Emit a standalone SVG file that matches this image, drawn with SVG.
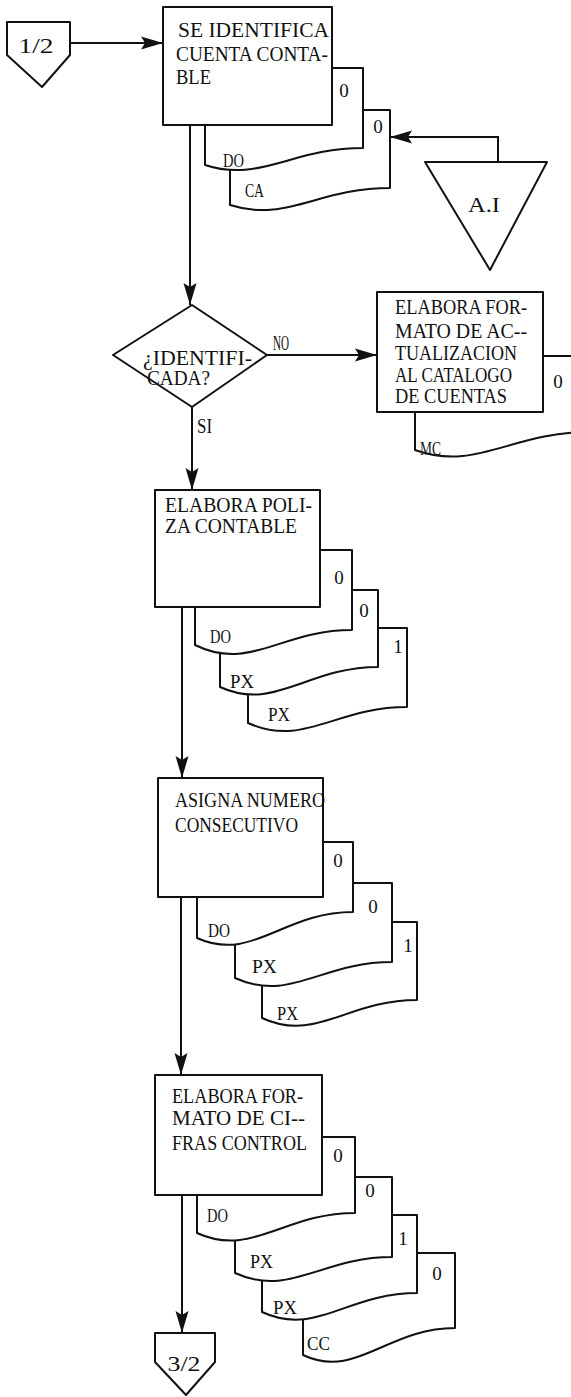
<svg xmlns="http://www.w3.org/2000/svg" width="571" height="1397" viewBox="0 0 571 1397">
<style>
.s{fill:#fff;stroke:#111;stroke-width:2;stroke-linejoin:round}
.l{fill:none;stroke:#111;stroke-width:2}
text{font-family:"Liberation Serif","DejaVu Serif",serif;fill:#111}
.t{font-size:20px}
.b{font-size:20px}
.d{font-size:19px}
.n{font-size:19px;text-anchor:middle}
</style>
<defs>
<marker id="ah" markerUnits="userSpaceOnUse" markerWidth="24" markerHeight="16" refX="22" refY="8" orient="auto">
<path d="M0,1.5 L22,8 L0,14.5 L4,8 Z" fill="#111"/>
</marker>
</defs>
<rect width="571" height="1397" fill="#fff"/>

<g id="conn-1-2">
<path class="s" d="M7,22 H70 V55 L42,87 L7,55 Z"/>
<text style="font-size:21px" x="36" y="53" text-anchor="middle" textLength="35" lengthAdjust="spacingAndGlyphs">1/2</text>
</g>

<g id="doc-ca">
<path class="s" d="M230,110 H390 V188 C318,188 286,223 230,205 Z"/>
<text class="n" x="378" y="133">0</text>
<text class="d" x="245" y="197" textLength="19" lengthAdjust="spacingAndGlyphs">CA</text>
</g>
<g id="doc-do-1">
<path class="s" d="M205,68 H363 V148 C292,148 260,183 205,165 Z"/>
<text class="n" x="344" y="97">0</text>
<text class="d" x="223" y="167" textLength="21" lengthAdjust="spacingAndGlyphs">DO</text>
</g>
<g id="box-identifica">
<rect class="s" x="163" y="7" width="169" height="118"/>
<text class="b" x="178" y="37" textLength="151" lengthAdjust="spacingAndGlyphs">SE IDENTIFICA</text>
<text class="b" x="176" y="61" textLength="152" lengthAdjust="spacingAndGlyphs">CUENTA CONTA-</text>
<text class="b" x="176" y="84" textLength="35" lengthAdjust="spacingAndGlyphs">BLE</text>
</g>

<g id="archivo-ai">
<path class="s" d="M425,162 H547 L490,270 Z"/>
<text class="t" x="484" y="212" text-anchor="middle" textLength="32" lengthAdjust="spacingAndGlyphs">A.I</text>
</g>

<g id="decision-identificada">
<path class="s" d="M113,355 L192,305 L267,355 L192,407 Z"/>
<text class="t" x="143" y="365" textLength="109" lengthAdjust="spacingAndGlyphs">¿IDENTIFI-</text>
<text class="t" x="147" y="385" textLength="63" lengthAdjust="spacingAndGlyphs">CADA?</text>
</g>

<g id="doc-mc">
<path class="s" d="M415,356 H590 V432 C511,432 476,472 415,450 Z"/>
<text class="n" x="558" y="388">0</text>
<text class="d" x="420" y="455" textLength="21" lengthAdjust="spacingAndGlyphs">MC</text>
</g>
<g id="box-actualizacion">
<rect class="s" x="377" y="292" width="166" height="120"/>
<text class="b" x="395" y="314" textLength="132" lengthAdjust="spacingAndGlyphs">ELABORA FOR-</text>
<text class="b" x="395" y="338" textLength="132" lengthAdjust="spacingAndGlyphs">MATO DE AC--</text>
<text class="b" x="395" y="360" textLength="122" lengthAdjust="spacingAndGlyphs">TUALIZACION</text>
<text class="b" x="395" y="382" textLength="117" lengthAdjust="spacingAndGlyphs">AL CATALOGO</text>
<text class="b" x="395" y="403" textLength="112" lengthAdjust="spacingAndGlyphs">DE CUENTAS</text>
</g>

<g id="doc-px-3b">
<path class="s" d="M248,628 H407 V707 C335,707 304,748 248,723 Z"/>
<text class="n" x="398" y="653">1</text>
<text class="d" x="268" y="721" textLength="22" lengthAdjust="spacingAndGlyphs">PX</text>
</g>
<g id="doc-px-3a">
<path class="s" d="M220,590 H378 V667 C307,667 275,712 220,687 Z"/>
<text class="n" x="364" y="617">0</text>
<text class="d" x="230" y="688" textLength="24" lengthAdjust="spacingAndGlyphs">PX</text>
</g>
<g id="doc-do-3">
<path class="s" d="M195,550 H352 V630 C281,630 250,672 195,645 Z"/>
<text class="n" x="339" y="584">0</text>
<text class="d" x="210" y="643" textLength="21" lengthAdjust="spacingAndGlyphs">DO</text>
</g>
<g id="box-poliza">
<rect class="s" x="155" y="490" width="165" height="117"/>
<text class="b" x="165" y="512" textLength="147" lengthAdjust="spacingAndGlyphs">ELABORA POLI-</text>
<text class="b" x="165" y="533" textLength="132" lengthAdjust="spacingAndGlyphs">ZA CONTABLE</text>
</g>

<g id="doc-px-4b">
<path class="s" d="M262,922 H417 V1000 C347,1000 316,1043 262,1018 Z"/>
<text class="n" x="408" y="952">1</text>
<text class="d" x="277" y="1020" textLength="21" lengthAdjust="spacingAndGlyphs">PX</text>
</g>
<g id="doc-px-4a">
<path class="s" d="M235,883 H392 V962 C321,962 290,1003 235,978 Z"/>
<text class="n" x="373" y="913">0</text>
<text class="d" x="252" y="973" textLength="25" lengthAdjust="spacingAndGlyphs">PX</text>
</g>
<g id="doc-do-4">
<path class="s" d="M197,842 H353 V912 C283,912 252,963 197,938 Z"/>
<text class="n" x="338" y="867">0</text>
<text class="d" x="208" y="937" textLength="22" lengthAdjust="spacingAndGlyphs">DO</text>
</g>
<g id="box-consecutivo">
<rect class="s" x="158" y="778" width="165" height="119"/>
<text class="b" x="175" y="807" textLength="150" lengthAdjust="spacingAndGlyphs">ASIGNA NUMERO</text>
<text class="b" x="175" y="832" textLength="123" lengthAdjust="spacingAndGlyphs">CONSECUTIVO</text>
</g>

<g id="doc-cc-5">
<path class="s" d="M303,1253 H455 V1328 C387,1328 356,1380 303,1355 Z"/>
<text class="n" x="437" y="1280">0</text>
<text class="d" x="307" y="1350" textLength="23" lengthAdjust="spacingAndGlyphs">CC</text>
</g>
<g id="doc-px-5b">
<path class="s" d="M262,1215 H417 V1293 C347,1293 316,1337 262,1312 Z"/>
<text class="n" x="403" y="1245">1</text>
<text class="d" x="273" y="1314" textLength="24" lengthAdjust="spacingAndGlyphs">PX</text>
</g>
<g id="doc-px-5a">
<path class="s" d="M235,1177 H392 V1257 C321,1257 290,1298 235,1273 Z"/>
<text class="n" x="370" y="1197">0</text>
<text class="d" x="250" y="1268" textLength="23" lengthAdjust="spacingAndGlyphs">PX</text>
</g>
<g id="doc-do-5">
<path class="s" d="M197,1137 H355 V1213 C284,1213 252,1258 197,1233 Z"/>
<text class="n" x="338" y="1162">0</text>
<text class="d" x="207" y="1222" textLength="21" lengthAdjust="spacingAndGlyphs">DO</text>
</g>
<g id="box-cifras">
<rect class="s" x="155" y="1075" width="167" height="120"/>
<text class="b" x="172" y="1103" textLength="131" lengthAdjust="spacingAndGlyphs">ELABORA FOR-</text>
<text class="b" x="172" y="1125" textLength="133" lengthAdjust="spacingAndGlyphs">MATO DE CI--</text>
<text class="b" x="172" y="1150" textLength="135" lengthAdjust="spacingAndGlyphs">FRAS CONTROL</text>
</g>

<g id="conn-3-2">
<path class="s" d="M155,1333 H215 V1362 L186,1395 L155,1362 Z"/>
<text style="font-size:22px" x="184" y="1371" text-anchor="middle" textLength="33" lengthAdjust="spacingAndGlyphs">3/2</text>
</g>

<g id="connectors">
<path class="l" d="M70,43 H163" marker-end="url(#ah)"/>
<path class="l" d="M498,162 V137 H390" marker-end="url(#ah)"/>
<path class="l" d="M190,125 V305" marker-end="url(#ah)"/>
<path class="l" d="M267,355 H377" marker-end="url(#ah)"/>
<path class="l" d="M192,407 V490" marker-end="url(#ah)"/>
<path class="l" d="M182,607 V778" marker-end="url(#ah)"/>
<path class="l" d="M181,897 V1075" marker-end="url(#ah)"/>
<path class="l" d="M182,1195 V1333" marker-end="url(#ah)"/>
<text class="t" x="273" y="350" textLength="16" lengthAdjust="spacingAndGlyphs">NO</text>
<text class="t" x="197" y="433" textLength="15" lengthAdjust="spacingAndGlyphs">SI</text>
</g>
</svg>
